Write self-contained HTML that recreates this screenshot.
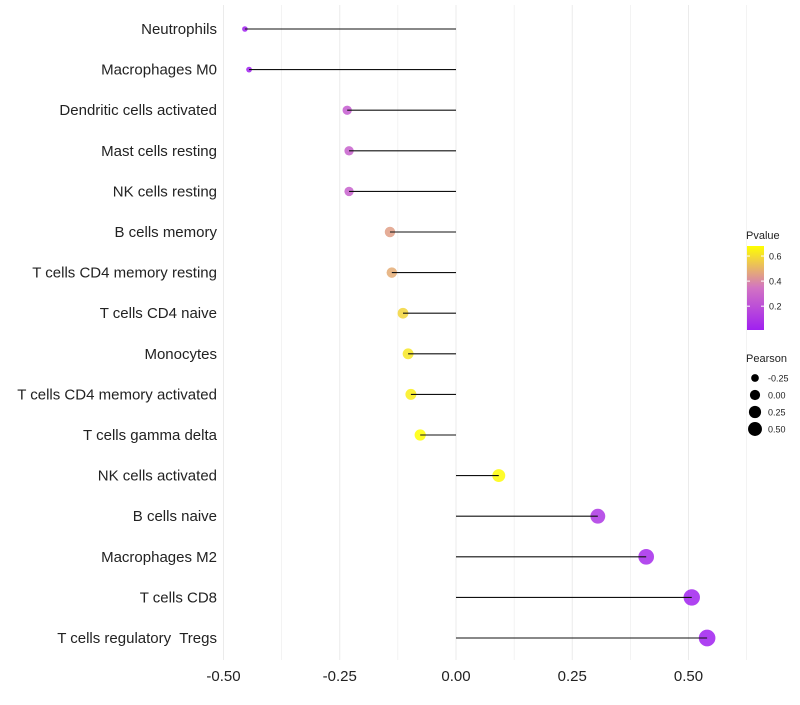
<!DOCTYPE html>
<html><head><meta charset="utf-8"><style>
body{margin:0;background:#fff;font-family:"Liberation Sans",sans-serif}
svg text{font-family:"Liberation Sans",sans-serif;white-space:pre}
</style></head><body>
<svg id="chart" width="800" height="700"></svg>
<script>
const categories=["Neutrophils","Macrophages M0","Dendritic cells activated","Mast cells resting","NK cells resting","B cells memory","T cells CD4 memory resting","T cells CD4 naive","Monocytes","T cells CD4 memory activated","T cells gamma delta","NK cells activated","B cells naive","Macrophages M2","T cells CD8","T cells regulatory  Tregs"];
const pearson=[-0.454,-0.445,-0.234,-0.23,-0.23,-0.142,-0.138,-0.114,-0.103,-0.097,-0.077,0.092,0.305,0.409,0.507,0.54];
const pvalue=[0.01,0.01,0.25,0.27,0.27,0.45,0.48,0.58,0.62,0.64,0.68,0.67,0.1,0.05,0.02,0.01];
const xTicks=[-0.5,-0.25,0,0.25,0.5];
const xTickLabels=["-0.50","-0.25","0.00","0.25","0.50"];
const pTicks=[0.2,0.4,0.6];
const sizeTicks=[-0.25,0,0.25,0.5];
const sizeTickLabels=["-0.25","0.00","0.25","0.50"];

const NS="http://www.w3.org/2000/svg";
const svg=document.getElementById('chart');
function mk(t,a,p){const e=document.createElementNS(NS,t);for(const k in a)e.setAttribute(k,a[k]);(p||svg).appendChild(e);return e;}
const xS=v=>456+v*465;
const yS=i=>29+i*40.6;
const rS=v=>Math.sqrt(Math.max(4,36+62*v));
const pMin=0.01,pMax=0.68;
function lerp(a,b,t){return a.map((x,i)=>Math.round(x+(b[i]-x)*t));}
function col(p){const t=Math.max(0,Math.min(1,(p-pMin)/(pMax-pMin)));const c0=[160,32,240],c1=[210,115,195],c2=[255,255,0];const c=t<0.5?lerp(c0,c1,t*2):lerp(c1,c2,(t-0.5)*2);return `rgb(${c})`;}
for(let v=-0.5;v<=0.76;v+=0.125){const g=mk('line',{x1:xS(v),x2:xS(v),y1:5,y2:660,stroke:'#ebebeb','stroke-width':Math.abs((v*4)%1)<1e-6?1:0.6});
}
xTicks.forEach((v,i)=>{const t=mk('text',{x:xS(v),y:681,'text-anchor':'middle','font-size':15,fill:'#222'});t.textContent=xTickLabels[i];
});
categories.forEach((c,i)=>{
const t=mk('text',{x:217,y:yS(i)+5,'text-anchor':'end','font-size':15,fill:'#222'});t.textContent=c;

const pt=mk('circle',{cx:xS(pearson[i]),cy:yS(i),r:rS(pearson[i]),fill:col(pvalue[i]),'fill-opacity':0.85});

const l=mk('line',{x1:xS(0),x2:xS(pearson[i]),y1:yS(i),y2:yS(i),stroke:'#111','stroke-width':1.1});

});
const defs=mk('defs',{});const lg=mk('linearGradient',{id:'gr',x1:0,y1:1,x2:0,y2:0},defs);
[0,0.25,0.5,0.75,1].forEach(o=>mk('stop',{offset:o,'stop-color':col(pMin+o*(pMax-pMin))},lg));
const pY=p=>330-(p-pMin)/(pMax-pMin)*(330-246);
let tt=mk('text',{x:746,y:239,'font-size':11,fill:'#222'});tt.textContent='Pvalue';

const cb=mk('rect',{x:747,y:246,width:17,height:84,fill:'url(#gr)'});

pTicks.forEach(p=>{mk('line',{x1:747,x2:750,y1:pY(p),y2:pY(p),stroke:'#fff'});mk('line',{x1:761,x2:764,y1:pY(p),y2:pY(p),stroke:'#fff'});
const t=mk('text',{x:769,y:pY(p)+3.5,'font-size':9,fill:'#222'});t.textContent=p.toFixed(1);
});
tt=mk('text',{x:746,y:362,'font-size':11,fill:'#222'});tt.textContent='Pearson';

sizeTicks.forEach((v,i)=>{const y=378+i*17;
const c=mk('circle',{cx:755,cy:y,r:rS(v)*0.85,fill:'#000'});

const t=mk('text',{x:768,y:y+3.5,'font-size':9,fill:'#222'});t.textContent=sizeTickLabels[i];
});
</script>
</body></html>
